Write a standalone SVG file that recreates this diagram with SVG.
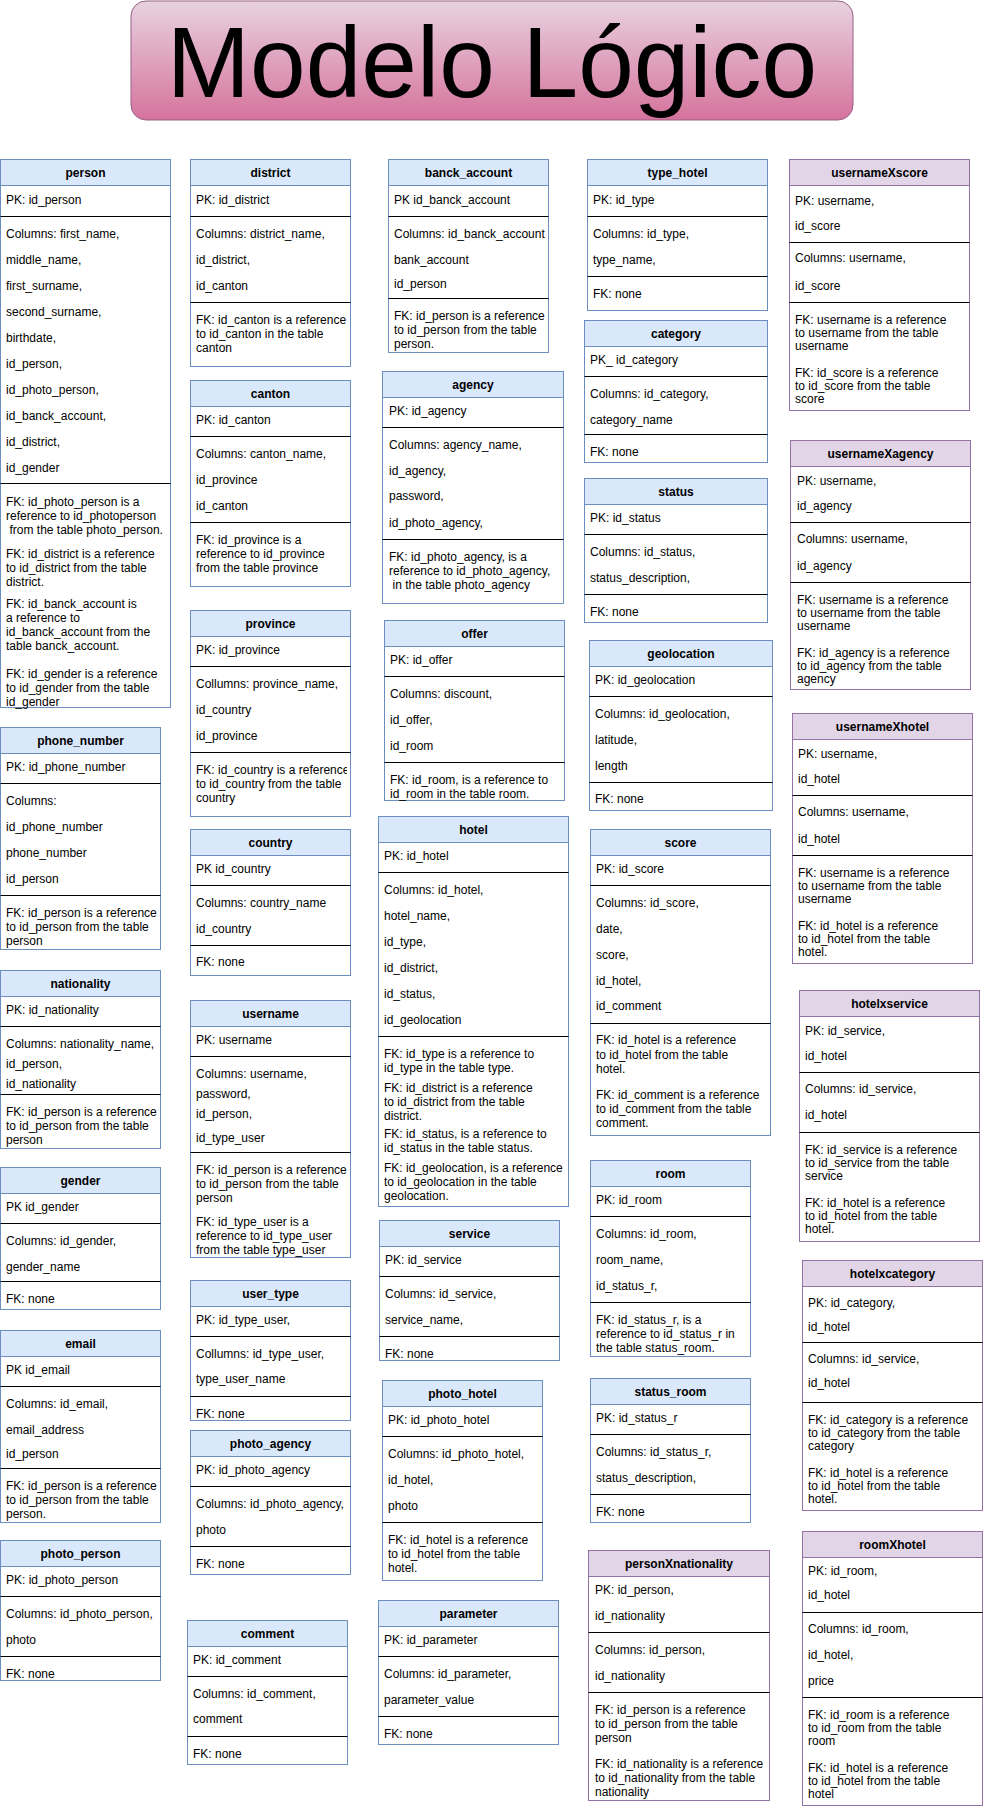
<svg xmlns="http://www.w3.org/2000/svg" width="984" height="1810" viewBox="0 0 984 1810">
<defs>
<linearGradient id="tg" x1="0" y1="0" x2="0" y2="1"><stop offset="0" stop-color="#e8d2e0"/><stop offset="1" stop-color="#d5739d"/></linearGradient>
<clipPath id="cpProv"><rect x="190" y="752" width="157" height="64"/></clipPath>
<clipPath id="cpPN"><rect x="588" y="1692" width="178" height="108"/></clipPath>
</defs>
<style>
.bx{fill:#fff;stroke:#6c8ebf;stroke-width:1}
.bh{fill:#dae8fc;stroke:#6c8ebf;stroke-width:1}
.px{fill:#fff;stroke:#9673a6;stroke-width:1}
.ph{fill:#e1d5e7;stroke:#9673a6;stroke-width:1}
.s{stroke:#000;stroke-width:1}
text{font-family:"Liberation Sans",Arial,Helvetica,sans-serif;font-size:12px;fill:#000}
.h{font-weight:bold;text-anchor:middle}
.ttl{font-size:100px;text-anchor:middle}
</style>
<rect width="984" height="1810" fill="#fff"/>
<g id="title">
<rect x="131" y="1" width="722" height="119" rx="15" fill="url(#tg)" stroke="#996185"/>
<text class="ttl" x="492" y="97">Modelo Lógico</text>
</g>
<g id="connectors"/>

<g id="t-person">
<rect class="bx" x="0.5" y="159.5" width="170" height="548"/>
<rect class="bh" x="0.5" y="159.5" width="170" height="26"/>
<text class="h" x="85.5" y="177">person</text>
<line class="s" x1="0.5" y1="216.5" x2="170.5" y2="216.5"/>
<line class="s" x1="0.5" y1="483.5" x2="170.5" y2="483.5"/>
<text x="6" y="204">PK: id_person</text>
<text x="6" y="238">Columns: first_name,</text>
<text x="6" y="264">middle_name,</text>
<text x="6" y="290">first_surname,</text>
<text x="6" y="316">second_surname,</text>
<text x="6" y="342">birthdate,</text>
<text x="6" y="368">id_person,</text>
<text x="6" y="394">id_photo_person,</text>
<text x="6" y="420">id_banck_account,</text>
<text x="6" y="446">id_district,</text>
<text x="6" y="472">id_gender</text>
<text x="6" y="506">FK: id_photo_person is a</text>
<text x="6" y="520">reference to id_photoperson</text>
<text x="9.5" y="534">from the table photo_person.</text>
<text x="6" y="558">FK: id_district is a reference</text>
<text x="6" y="572">to id_district from the table</text>
<text x="6" y="586">district.</text>
<text x="6" y="608">FK: id_banck_account is</text>
<text x="6" y="622">a reference to</text>
<text x="6" y="636">id_banck_account from the</text>
<text x="6" y="650">table banck_account.</text>
<text x="6" y="678">FK: id_gender is a reference</text>
<text x="6" y="692">to id_gender from the table</text>
<text x="6" y="706">id_gender</text>
</g>

<g id="t-phone_number">
<rect class="bx" x="0.5" y="727.5" width="160" height="222"/>
<rect class="bh" x="0.5" y="727.5" width="160" height="26"/>
<text class="h" x="80.5" y="745">phone_number</text>
<line class="s" x1="0.5" y1="783.5" x2="160.5" y2="783.5"/>
<line class="s" x1="0.5" y1="895.5" x2="160.5" y2="895.5"/>
<text x="6" y="771">PK: id_phone_number</text>
<text x="6" y="805">Columns:</text>
<text x="6" y="831">id_phone_number</text>
<text x="6" y="857">phone_number</text>
<text x="6" y="883">id_person</text>
<text x="6" y="917">FK: id_person is a reference</text>
<text x="6" y="931">to id_person from the table</text>
<text x="6" y="945">person</text>
</g>

<g id="t-nationality">
<rect class="bx" x="0.5" y="970.5" width="160" height="178"/>
<rect class="bh" x="0.5" y="970.5" width="160" height="26"/>
<text class="h" x="80.5" y="988">nationality</text>
<line class="s" x1="0.5" y1="1026.5" x2="160.5" y2="1026.5"/>
<line class="s" x1="0.5" y1="1094.5" x2="160.5" y2="1094.5"/>
<text x="6" y="1014">PK: id_nationality</text>
<text x="6" y="1048">Columns: nationality_name,</text>
<text x="6" y="1068">id_person,</text>
<text x="6" y="1088">id_nationality</text>
<text x="6" y="1116">FK: id_person is a reference</text>
<text x="6" y="1130">to id_person from the table</text>
<text x="6" y="1144">person</text>
</g>

<g id="t-gender">
<rect class="bx" x="0.5" y="1167.5" width="160" height="142"/>
<rect class="bh" x="0.5" y="1167.5" width="160" height="26"/>
<text class="h" x="80.5" y="1185">gender</text>
<line class="s" x1="0.5" y1="1223.5" x2="160.5" y2="1223.5"/>
<line class="s" x1="0.5" y1="1281.5" x2="160.5" y2="1281.5"/>
<text x="6" y="1211">PK id_gender</text>
<text x="6" y="1245">Columns: id_gender,</text>
<text x="6" y="1271">gender_name</text>
<text x="6" y="1303">FK: none</text>
</g>

<g id="t-email">
<rect class="bx" x="0.5" y="1330.5" width="160" height="192"/>
<rect class="bh" x="0.5" y="1330.5" width="160" height="26"/>
<text class="h" x="80.5" y="1348">email</text>
<line class="s" x1="0.5" y1="1386.5" x2="160.5" y2="1386.5"/>
<line class="s" x1="0.5" y1="1468.5" x2="160.5" y2="1468.5"/>
<text x="6" y="1374">PK id_email</text>
<text x="6" y="1408">Columns: id_email,</text>
<text x="6" y="1434">email_address</text>
<text x="6" y="1458">id_person</text>
<text x="6" y="1490">FK: id_person is a reference</text>
<text x="6" y="1504">to id_person from the table</text>
<text x="6" y="1518">person.</text>
</g>

<g id="t-photo_person">
<rect class="bx" x="0.5" y="1540.5" width="160" height="140"/>
<rect class="bh" x="0.5" y="1540.5" width="160" height="26"/>
<text class="h" x="80.5" y="1558">photo_person</text>
<line class="s" x1="0.5" y1="1596.5" x2="160.5" y2="1596.5"/>
<line class="s" x1="0.5" y1="1656.5" x2="160.5" y2="1656.5"/>
<text x="6" y="1584">PK: id_photo_person</text>
<text x="6" y="1618">Columns: id_photo_person,</text>
<text x="6" y="1644">photo</text>
<text x="6" y="1678">FK: none</text>
</g>

<g id="t-district">
<rect class="bx" x="190.5" y="159.5" width="160" height="207"/>
<rect class="bh" x="190.5" y="159.5" width="160" height="26"/>
<text class="h" x="270.5" y="177">district</text>
<line class="s" x1="190.5" y1="216.5" x2="350.5" y2="216.5"/>
<line class="s" x1="190.5" y1="302.5" x2="350.5" y2="302.5"/>
<text x="196" y="204">PK: id_district</text>
<text x="196" y="238">Columns: district_name,</text>
<text x="196" y="264">id_district,</text>
<text x="196" y="290">id_canton</text>
<text x="196" y="324">FK: id_canton is a reference</text>
<text x="196" y="338">to id_canton in the table</text>
<text x="196" y="352">canton</text>
</g>

<g id="t-canton">
<rect class="bx" x="190.5" y="380.5" width="160" height="206"/>
<rect class="bh" x="190.5" y="380.5" width="160" height="26"/>
<text class="h" x="270.5" y="398">canton</text>
<line class="s" x1="190.5" y1="436.5" x2="350.5" y2="436.5"/>
<line class="s" x1="190.5" y1="522.5" x2="350.5" y2="522.5"/>
<text x="196" y="424">PK: id_canton</text>
<text x="196" y="458">Columns: canton_name,</text>
<text x="196" y="484">id_province</text>
<text x="196" y="510">id_canton</text>
<text x="196" y="544">FK: id_province is a</text>
<text x="196" y="558">reference to id_province</text>
<text x="196" y="572">from the table province</text>
</g>

<g id="t-province">
<rect class="bx" x="190.5" y="610.5" width="160" height="206"/>
<rect class="bh" x="190.5" y="610.5" width="160" height="26"/>
<text class="h" x="270.5" y="628">province</text>
<line class="s" x1="190.5" y1="666.5" x2="350.5" y2="666.5"/>
<line class="s" x1="190.5" y1="752.5" x2="350.5" y2="752.5"/>
<text x="196" y="654">PK: id_province</text>
<text x="196" y="688">Collumns: province_name,</text>
<text x="196" y="714">id_country</text>
<text x="196" y="740">id_province</text>
<g clip-path="url(#cpProv)">
<text x="196" y="774">FK: id_country is a reference</text>
<text x="196" y="788">to id_country from the table</text>
<text x="196" y="802">country</text>
</g>
</g>

<g id="t-country">
<rect class="bx" x="190.5" y="829.5" width="160" height="146"/>
<rect class="bh" x="190.5" y="829.5" width="160" height="26"/>
<text class="h" x="270.5" y="847">country</text>
<line class="s" x1="190.5" y1="885.5" x2="350.5" y2="885.5"/>
<line class="s" x1="190.5" y1="945.5" x2="350.5" y2="945.5"/>
<text x="196" y="873">PK id_country</text>
<text x="196" y="907">Columns: country_name</text>
<text x="196" y="933">id_country</text>
<text x="196" y="966">FK: none</text>
</g>

<g id="t-username">
<rect class="bx" x="190.5" y="1000.5" width="160" height="257"/>
<rect class="bh" x="190.5" y="1000.5" width="160" height="26"/>
<text class="h" x="270.5" y="1018">username</text>
<line class="s" x1="190.5" y1="1056.5" x2="350.5" y2="1056.5"/>
<line class="s" x1="190.5" y1="1152.5" x2="350.5" y2="1152.5"/>
<text x="196" y="1044">PK: username</text>
<text x="196" y="1078">Columns: username,</text>
<text x="196" y="1098">password,</text>
<text x="196" y="1118">id_person,</text>
<text x="196" y="1142">id_type_user</text>
<text x="196" y="1174">FK: id_person is a reference</text>
<text x="196" y="1188">to id_person from the table</text>
<text x="196" y="1202">person</text>
<text x="196" y="1226">FK: id_type_user is a</text>
<text x="196" y="1240">reference to id_type_user</text>
<text x="196" y="1254">from the table type_user</text>
</g>

<g id="t-user_type">
<rect class="bx" x="190.5" y="1280.5" width="160" height="140"/>
<rect class="bh" x="190.5" y="1280.5" width="160" height="26"/>
<text class="h" x="270.5" y="1298">user_type</text>
<line class="s" x1="190.5" y1="1336.5" x2="350.5" y2="1336.5"/>
<line class="s" x1="190.5" y1="1396.5" x2="350.5" y2="1396.5"/>
<text x="196" y="1324">PK: id_type_user,</text>
<text x="196" y="1358">Collumns: id_type_user,</text>
<text x="196" y="1383">type_user_name</text>
<text x="196" y="1418">FK: none</text>
</g>

<g id="t-photo_agency">
<rect class="bx" x="190.5" y="1430.5" width="160" height="144"/>
<rect class="bh" x="190.5" y="1430.5" width="160" height="26"/>
<text class="h" x="270.5" y="1448">photo_agency</text>
<line class="s" x1="190.5" y1="1486.5" x2="350.5" y2="1486.5"/>
<line class="s" x1="190.5" y1="1546.5" x2="350.5" y2="1546.5"/>
<text x="196" y="1474">PK: id_photo_agency</text>
<text x="196" y="1508">Columns: id_photo_agency,</text>
<text x="196" y="1534">photo</text>
<text x="196" y="1568">FK: none</text>
</g>

<g id="t-comment">
<rect class="bx" x="187.5" y="1620.5" width="160" height="144"/>
<rect class="bh" x="187.5" y="1620.5" width="160" height="26"/>
<text class="h" x="267.5" y="1638">comment</text>
<line class="s" x1="187.5" y1="1676.5" x2="347.5" y2="1676.5"/>
<line class="s" x1="187.5" y1="1736.5" x2="347.5" y2="1736.5"/>
<text x="193" y="1664">PK: id_comment</text>
<text x="193" y="1698">Columns: id_comment,</text>
<text x="193" y="1723">comment</text>
<text x="193" y="1758">FK: none</text>
</g>

<g id="t-banck_account">
<rect class="bx" x="388.5" y="159.5" width="160" height="193"/>
<rect class="bh" x="388.5" y="159.5" width="160" height="26"/>
<text class="h" x="468.5" y="177">banck_account</text>
<line class="s" x1="388.5" y1="216.5" x2="548.5" y2="216.5"/>
<line class="s" x1="388.5" y1="298.5" x2="548.5" y2="298.5"/>
<text x="394" y="204">PK id_banck_account</text>
<text x="394" y="238">Columns: id_banck_account</text>
<text x="394" y="264">bank_account</text>
<text x="394" y="288">id_person</text>
<text x="394" y="320">FK: id_person is a reference</text>
<text x="394" y="334">to id_person from the table</text>
<text x="394" y="348">person.</text>
</g>

<g id="t-agency">
<rect class="bx" x="382.5" y="371.5" width="181" height="232"/>
<rect class="bh" x="382.5" y="371.5" width="181" height="26"/>
<text class="h" x="473" y="389">agency</text>
<line class="s" x1="382.5" y1="427.5" x2="563.5" y2="427.5"/>
<line class="s" x1="382.5" y1="539.5" x2="563.5" y2="539.5"/>
<text x="389" y="415">PK: id_agency</text>
<text x="389" y="449">Columns: agency_name,</text>
<text x="389" y="475">id_agency,</text>
<text x="389" y="500">password,</text>
<text x="389" y="527">id_photo_agency,</text>
<text x="389" y="561">FK: id_photo_agency, is a</text>
<text x="389" y="575">reference to id_photo_agency,</text>
<text x="392.5" y="589">in the table photo_agency</text>
</g>

<g id="t-offer">
<rect class="bx" x="384.5" y="620.5" width="180" height="180"/>
<rect class="bh" x="384.5" y="620.5" width="180" height="26"/>
<text class="h" x="474.5" y="638">offer</text>
<line class="s" x1="384.5" y1="676.5" x2="564.5" y2="676.5"/>
<line class="s" x1="384.5" y1="762.5" x2="564.5" y2="762.5"/>
<text x="390" y="664">PK: id_offer</text>
<text x="390" y="698">Columns: discount,</text>
<text x="390" y="724">id_offer,</text>
<text x="390" y="750">id_room</text>
<text x="390" y="784">FK: id_room, is a reference to</text>
<text x="390" y="798">id_room in the table room.</text>
</g>

<g id="t-hotel">
<rect class="bx" x="378.5" y="816.5" width="190" height="390"/>
<rect class="bh" x="378.5" y="816.5" width="190" height="26"/>
<text class="h" x="473.5" y="834">hotel</text>
<line class="s" x1="378.5" y1="872.5" x2="568.5" y2="872.5"/>
<line class="s" x1="378.5" y1="1036.5" x2="568.5" y2="1036.5"/>
<text x="384" y="860">PK: id_hotel</text>
<text x="384" y="894">Columns: id_hotel,</text>
<text x="384" y="920">hotel_name,</text>
<text x="384" y="946">id_type,</text>
<text x="384" y="972">id_district,</text>
<text x="384" y="998">id_status,</text>
<text x="384" y="1024">id_geolocation</text>
<text x="384" y="1058">FK: id_type is a reference to</text>
<text x="384" y="1072">id_type in the table type.</text>
<text x="384" y="1092">FK: id_district is a reference</text>
<text x="384" y="1106">to id_district from the table</text>
<text x="384" y="1120">district.</text>
<text x="384" y="1138">FK: id_status, is a reference to</text>
<text x="384" y="1152">id_status in the table status.</text>
<text x="384" y="1172">FK: id_geolocation, is a reference</text>
<text x="384" y="1186">to id_geolocation in the table</text>
<text x="384" y="1200">geolocation.</text>
</g>

<g id="t-service">
<rect class="bx" x="379.5" y="1220.5" width="180" height="140"/>
<rect class="bh" x="379.5" y="1220.5" width="180" height="26"/>
<text class="h" x="469.5" y="1238">service</text>
<line class="s" x1="379.5" y1="1276.5" x2="559.5" y2="1276.5"/>
<line class="s" x1="379.5" y1="1336.5" x2="559.5" y2="1336.5"/>
<text x="385" y="1264">PK: id_service</text>
<text x="385" y="1298">Columns: id_service,</text>
<text x="385" y="1324">service_name,</text>
<text x="385" y="1358">FK: none</text>
</g>

<g id="t-photo_hotel">
<rect class="bx" x="382.5" y="1380.5" width="160" height="200"/>
<rect class="bh" x="382.5" y="1380.5" width="160" height="26"/>
<text class="h" x="462.5" y="1398">photo_hotel</text>
<line class="s" x1="382.5" y1="1436.5" x2="542.5" y2="1436.5"/>
<line class="s" x1="382.5" y1="1522.5" x2="542.5" y2="1522.5"/>
<text x="388" y="1424">PK: id_photo_hotel</text>
<text x="388" y="1458">Columns: id_photo_hotel,</text>
<text x="388" y="1484">id_hotel,</text>
<text x="388" y="1510">photo</text>
<text x="388" y="1544">FK: id_hotel is a reference</text>
<text x="388" y="1558">to id_hotel from the table</text>
<text x="388" y="1572">hotel.</text>
</g>

<g id="t-parameter">
<rect class="bx" x="378.5" y="1600.5" width="180" height="144"/>
<rect class="bh" x="378.5" y="1600.5" width="180" height="26"/>
<text class="h" x="468.5" y="1618">parameter</text>
<line class="s" x1="378.5" y1="1656.5" x2="558.5" y2="1656.5"/>
<line class="s" x1="378.5" y1="1716.5" x2="558.5" y2="1716.5"/>
<text x="384" y="1644">PK: id_parameter</text>
<text x="384" y="1678">Columns: id_parameter,</text>
<text x="384" y="1704">parameter_value</text>
<text x="384" y="1738">FK: none</text>
</g>

<g id="t-type_hotel">
<rect class="bx" x="587.5" y="159.5" width="180" height="151"/>
<rect class="bh" x="587.5" y="159.5" width="180" height="26"/>
<text class="h" x="677.5" y="177">type_hotel</text>
<line class="s" x1="587.5" y1="216.5" x2="767.5" y2="216.5"/>
<line class="s" x1="587.5" y1="276.5" x2="767.5" y2="276.5"/>
<text x="593" y="204">PK: id_type</text>
<text x="593" y="238">Columns: id_type,</text>
<text x="593" y="264">type_name,</text>
<text x="593" y="298">FK: none</text>
</g>

<g id="t-category">
<rect class="bx" x="584.5" y="320.5" width="183" height="142"/>
<rect class="bh" x="584.5" y="320.5" width="183" height="26"/>
<text class="h" x="676" y="338">category</text>
<line class="s" x1="584.5" y1="376.5" x2="767.5" y2="376.5"/>
<line class="s" x1="584.5" y1="434.5" x2="767.5" y2="434.5"/>
<text x="590" y="364">PK_ id_category</text>
<text x="590" y="398">Columns: id_category,</text>
<text x="590" y="424">category_name</text>
<text x="590" y="456">FK: none</text>
</g>

<g id="t-status">
<rect class="bx" x="584.5" y="478.5" width="183" height="144"/>
<rect class="bh" x="584.5" y="478.5" width="183" height="26"/>
<text class="h" x="676" y="496">status</text>
<line class="s" x1="584.5" y1="534.5" x2="767.5" y2="534.5"/>
<line class="s" x1="584.5" y1="594.5" x2="767.5" y2="594.5"/>
<text x="590" y="522">PK: id_status</text>
<text x="590" y="556">Columns: id_status,</text>
<text x="590" y="582">status_description,</text>
<text x="590" y="616">FK: none</text>
</g>

<g id="t-geolocation">
<rect class="bx" x="589.5" y="640.5" width="183" height="170"/>
<rect class="bh" x="589.5" y="640.5" width="183" height="26"/>
<text class="h" x="681" y="658">geolocation</text>
<line class="s" x1="589.5" y1="696.5" x2="772.5" y2="696.5"/>
<line class="s" x1="589.5" y1="782.5" x2="772.5" y2="782.5"/>
<text x="595" y="684">PK: id_geolocation</text>
<text x="595" y="718">Columns: id_geolocation,</text>
<text x="595" y="744">latitude,</text>
<text x="595" y="770">length</text>
<text x="595" y="803">FK: none</text>
</g>

<g id="t-score">
<rect class="bx" x="590.5" y="829.5" width="180" height="306"/>
<rect class="bh" x="590.5" y="829.5" width="180" height="26"/>
<text class="h" x="680.5" y="847">score</text>
<line class="s" x1="590.5" y1="885.5" x2="770.5" y2="885.5"/>
<line class="s" x1="590.5" y1="1023.5" x2="770.5" y2="1023.5"/>
<text x="596" y="873">PK: id_score</text>
<text x="596" y="907">Columns: id_score,</text>
<text x="596" y="933">date,</text>
<text x="596" y="959">score,</text>
<text x="596" y="985">id_hotel,</text>
<text x="596" y="1010">id_comment</text>
<text x="596" y="1044">FK: id_hotel is a reference</text>
<text x="596" y="1059">to id_hotel from the table</text>
<text x="596" y="1073">hotel.</text>
<text x="596" y="1099">FK: id_comment is a reference</text>
<text x="596" y="1113">to id_comment from the table</text>
<text x="596" y="1127">comment.</text>
</g>

<g id="t-room">
<rect class="bx" x="590.5" y="1160.5" width="160" height="196"/>
<rect class="bh" x="590.5" y="1160.5" width="160" height="26"/>
<text class="h" x="670.5" y="1178">room</text>
<line class="s" x1="590.5" y1="1216.5" x2="750.5" y2="1216.5"/>
<line class="s" x1="590.5" y1="1302.5" x2="750.5" y2="1302.5"/>
<text x="596" y="1204">PK: id_room</text>
<text x="596" y="1238">Columns: id_room,</text>
<text x="596" y="1264">room_name,</text>
<text x="596" y="1290">id_status_r,</text>
<text x="596" y="1324">FK: id_status_r, is a</text>
<text x="596" y="1338">reference to id_status_r in</text>
<text x="596" y="1352">the table status_room.</text>
</g>

<g id="t-status_room">
<rect class="bx" x="590.5" y="1378.5" width="160" height="144"/>
<rect class="bh" x="590.5" y="1378.5" width="160" height="26"/>
<text class="h" x="670.5" y="1396">status_room</text>
<line class="s" x1="590.5" y1="1434.5" x2="750.5" y2="1434.5"/>
<line class="s" x1="590.5" y1="1494.5" x2="750.5" y2="1494.5"/>
<text x="596" y="1422">PK: id_status_r</text>
<text x="596" y="1456">Columns: id_status_r,</text>
<text x="596" y="1482">status_description,</text>
<text x="596" y="1516">FK: none</text>
</g>

<g id="t-personXnationality">
<rect class="px" x="588.5" y="1550.5" width="181" height="250"/>
<rect class="ph" x="588.5" y="1550.5" width="181" height="26"/>
<text class="h" x="679" y="1568">personXnationality</text>
<line class="s" x1="588.5" y1="1632.5" x2="769.5" y2="1632.5"/>
<line class="s" x1="588.5" y1="1692.5" x2="769.5" y2="1692.5"/>
<text x="595" y="1594">PK: id_person,</text>
<text x="595" y="1620">id_nationality</text>
<text x="595" y="1654">Columns: id_person,</text>
<text x="595" y="1680">id_nationality</text>
<g clip-path="url(#cpPN)">
<text x="595" y="1714">FK: id_person is a reference</text>
<text x="595" y="1728">to id_person from the table</text>
<text x="595" y="1742">person</text>
<text x="595" y="1768">FK: id_nationality is a reference</text>
<text x="595" y="1782">to id_nationality from the table</text>
<text x="595" y="1796">nationality</text>
</g>
</g>

<g id="t-usernameXscore">
<rect class="px" x="789.5" y="159.5" width="180" height="251"/>
<rect class="ph" x="789.5" y="159.5" width="180" height="26"/>
<text class="h" x="879.5" y="177">usernameXscore</text>
<line class="s" x1="789.5" y1="242.5" x2="969.5" y2="242.5"/>
<line class="s" x1="789.5" y1="302.5" x2="969.5" y2="302.5"/>
<text x="795" y="205">PK: username,</text>
<text x="795" y="230">id_score</text>
<text x="795" y="262">Columns: username,</text>
<text x="795" y="290">id_score</text>
<text x="795" y="324">FK: username is a reference</text>
<text x="795" y="337">to username from the table</text>
<text x="795" y="350">username</text>
<text x="795" y="377">FK: id_score is a reference</text>
<text x="795" y="390">to id_score from the table</text>
<text x="795" y="403">score</text>
</g>

<g id="t-usernameXagency">
<rect class="px" x="790.5" y="440.5" width="180" height="249"/>
<rect class="ph" x="790.5" y="440.5" width="180" height="26"/>
<text class="h" x="880.5" y="458">usernameXagency</text>
<line class="s" x1="790.5" y1="522.5" x2="970.5" y2="522.5"/>
<line class="s" x1="790.5" y1="582.5" x2="970.5" y2="582.5"/>
<text x="797" y="485">PK: username,</text>
<text x="797" y="510">id_agency</text>
<text x="797" y="543">Columns: username,</text>
<text x="797" y="570">id_agency</text>
<text x="797" y="604">FK: username is a reference</text>
<text x="797" y="617">to username from the table</text>
<text x="797" y="630">username</text>
<text x="797" y="657">FK: id_agency is a reference</text>
<text x="797" y="670">to id_agency from the table</text>
<text x="797" y="683">agency</text>
</g>

<g id="t-usernameXhotel">
<rect class="px" x="792.5" y="713.5" width="180" height="250"/>
<rect class="ph" x="792.5" y="713.5" width="180" height="26"/>
<text class="h" x="882.5" y="731">usernameXhotel</text>
<line class="s" x1="792.5" y1="795.5" x2="972.5" y2="795.5"/>
<line class="s" x1="792.5" y1="855.5" x2="972.5" y2="855.5"/>
<text x="798" y="758">PK: username,</text>
<text x="798" y="783">id_hotel</text>
<text x="798" y="816">Columns: username,</text>
<text x="798" y="843">id_hotel</text>
<text x="798" y="877">FK: username is a reference</text>
<text x="798" y="890">to username from the table</text>
<text x="798" y="903">username</text>
<text x="798" y="930">FK: id_hotel is a reference</text>
<text x="798" y="943">to id_hotel from the table</text>
<text x="798" y="956">hotel.</text>
</g>

<g id="t-hotelxservice">
<rect class="px" x="799.5" y="990.5" width="180" height="251"/>
<rect class="ph" x="799.5" y="990.5" width="180" height="26"/>
<text class="h" x="889.5" y="1008">hotelxservice</text>
<line class="s" x1="799.5" y1="1072.5" x2="979.5" y2="1072.5"/>
<line class="s" x1="799.5" y1="1132.5" x2="979.5" y2="1132.5"/>
<text x="805" y="1035">PK: id_service,</text>
<text x="805" y="1060">id_hotel</text>
<text x="805" y="1093">Columns: id_service,</text>
<text x="805" y="1119">id_hotel</text>
<text x="805" y="1154">FK: id_service is a reference</text>
<text x="805" y="1167">to id_service from the table</text>
<text x="805" y="1180">service</text>
<text x="805" y="1207">FK: id_hotel is a reference</text>
<text x="805" y="1220">to id_hotel from the table</text>
<text x="805" y="1233">hotel.</text>
</g>

<g id="t-hotelxcategory">
<rect class="px" x="802.5" y="1260.5" width="180" height="250"/>
<rect class="ph" x="802.5" y="1260.5" width="180" height="26"/>
<text class="h" x="892.5" y="1278">hotelxcategory</text>
<line class="s" x1="802.5" y1="1342.5" x2="982.5" y2="1342.5"/>
<line class="s" x1="802.5" y1="1402.5" x2="982.5" y2="1402.5"/>
<text x="808" y="1307">PK: id_category,</text>
<text x="808" y="1331">id_hotel</text>
<text x="808" y="1363">Columns: id_service,</text>
<text x="808" y="1387">id_hotel</text>
<text x="808" y="1424">FK: id_category is a reference</text>
<text x="808" y="1437">to id_category from the table</text>
<text x="808" y="1450">category</text>
<text x="808" y="1477">FK: id_hotel is a reference</text>
<text x="808" y="1490">to id_hotel from the table</text>
<text x="808" y="1503">hotel.</text>
</g>

<g id="t-roomXhotel">
<rect class="px" x="802.5" y="1531.5" width="180" height="274"/>
<rect class="ph" x="802.5" y="1531.5" width="180" height="26"/>
<text class="h" x="892.5" y="1549">roomXhotel</text>
<line class="s" x1="802.5" y1="1612.5" x2="982.5" y2="1612.5"/>
<line class="s" x1="802.5" y1="1697.5" x2="982.5" y2="1697.5"/>
<text x="808" y="1575">PK: id_room,</text>
<text x="808" y="1599">id_hotel</text>
<text x="808" y="1633">Columns: id_room,</text>
<text x="808" y="1659">id_hotel,</text>
<text x="808" y="1685">price</text>
<text x="808" y="1719">FK: id_room is a reference</text>
<text x="808" y="1732">to id_room from the table</text>
<text x="808" y="1745">room</text>
<text x="808" y="1772">FK: id_hotel is a reference</text>
<text x="808" y="1785">to id_hotel from the table</text>
<text x="808" y="1798">hotel</text>
</g>
</svg>
